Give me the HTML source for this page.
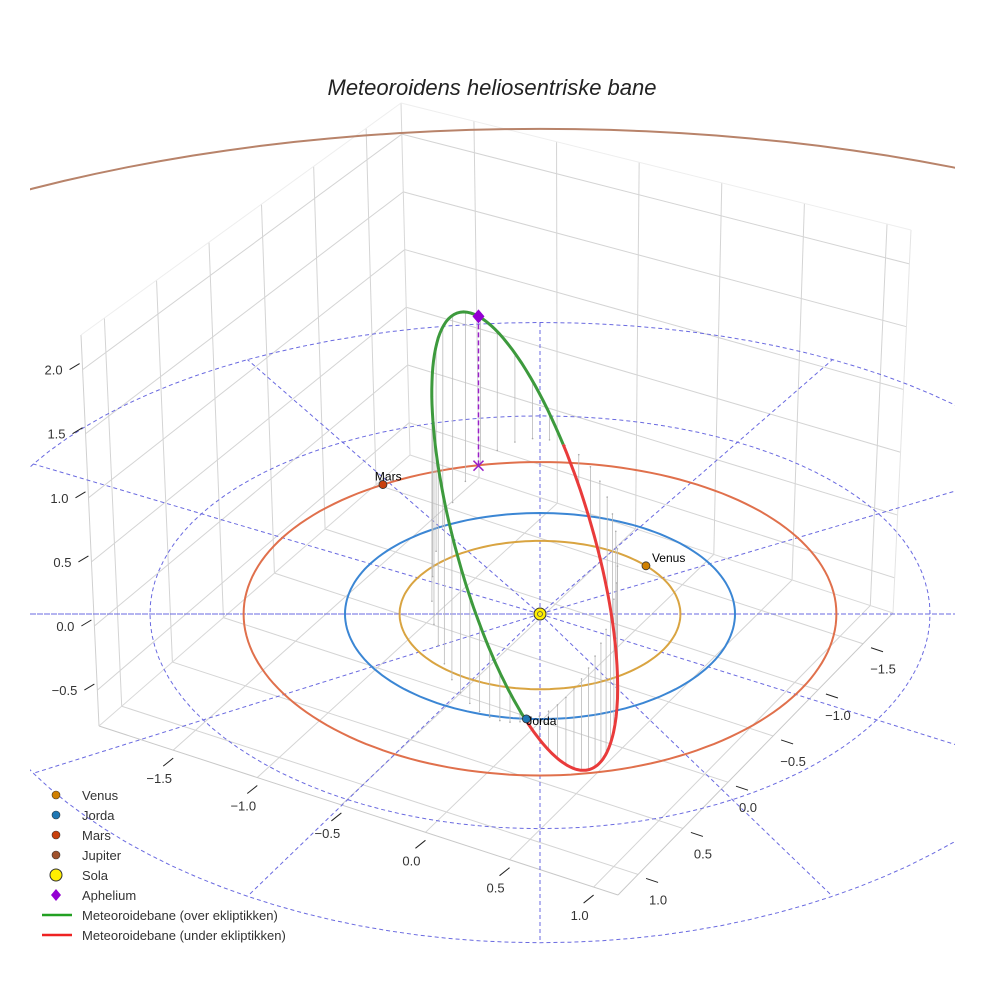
<!DOCTYPE html>
<html><head><meta charset="utf-8">
<style>
html,body{margin:0;padding:0;background:#fff;overflow:hidden;width:984px;height:984px;}
svg{display:block;font-family:"Liberation Sans",sans-serif;}
</style></head>
<body>
<svg id="chart" width="984" height="984" viewBox="0 0 984 984" xmlns="http://www.w3.org/2000/svg">
<defs><clipPath id="plotclip"><rect x="30" y="0" width="925" height="955"/></clipPath></defs>
<rect width="984" height="984" fill="#fff"/>
<text x="492" y="95" text-anchor="middle" font-size="22" font-style="italic" fill="#222">Meteoroidens heliosentriske bane</text>
<g id="box"></g>
<g id="polar" clip-path="url(#plotclip)"></g>
<g id="orbits" clip-path="url(#plotclip)"></g>
<g id="meteor"></g>
<g id="markers"></g>
<g id="ticks"></g>
<g id="legend"></g>
</svg>
<script>
// ---- data ----
const planetNames = ["Venus", "Jorda", "Mars", "Jupiter"];
const planetRadii = [0.72, 1.0, 1.52, 5.2];
const planetAngles = [41, -94, 122, null];
const planetOrbitColors = ["#d9a441", "#3b86d4", "#e0704c", "#b8836a"];
const planetMarkerColors = ["#d08000", "#1f77b4", "#c8400c", "#a0522d"];
const meteorA = [1.43];
const meteorE = [0.33];
const meteorIncl = [70];
const meteorPeriArg = [-40];
const meteorNodeLon = [-94];
const polarRadii = [1, 2, 3];
const polarAngles = [0, 30, 60, 90, 120, 150, 180, 210, 240, 270, 300, 330];
const xTickLabels = ["−1.5", "−1.0", "−0.5", "0.0", "0.5", "1.0"];
const yTickLabels = ["−1.5", "−1.0", "−0.5", "0.0", "0.5", "1.0"];
const zTickLabels = ["−0.5", "0.0", "0.5", "1.0", "1.5", "2.0"];
const zTickValues = [-0.5, 0, 0.5, 1.0, 1.5, 2.0];

const NS = "http://www.w3.org/2000/svg";
function mk(tag, attrs, parent) {
  const e = document.createElementNS(NS, tag);
  for (const k in attrs) e.setAttribute(k, attrs[k]);
  parent.appendChild(e);
  return e;
}
const CX = 540, CY = 614;
function proj(x, y, z) {
  return [CX + 195 * x, CY - 103 * y / (1 + 0.02 * y) - 130 * z];
}
function pathFrom(pts) {
  return pts.map((p, i) => (i ? "L" : "M") + p[0].toFixed(1) + "," + p[1].toFixed(1)).join("");
}

// ---- axes box ----
const FL = [[99,726],[618,895],[893,613],[410,455]];
const TP = [[81,335],[600,500],[911,230],[401,103]];
function bil(c, u, v) {
  const x = c[0][0]*(1-u)*(1-v) + c[1][0]*u*(1-v) + c[2][0]*u*v + c[3][0]*(1-u)*v;
  const y = c[0][1]*(1-u)*(1-v) + c[1][1]*u*(1-v) + c[2][1]*u*v + c[3][1]*(1-u)*v;
  return [x, y];
}
function box(u, v, w) {
  const p = bil(FL, u, v), q = bil(TP, u, v);
  return [p[0] + (q[0]-p[0])*w, p[1] + (q[1]-p[1])*w];
}
const boxG = document.getElementById("box");
function bline(p, q, col, nm) {
  const l = mk("line", {x1:p[0],y1:p[1],x2:q[0],y2:q[1],stroke:col,"stroke-width":1}, boxG);
  
  
}
const uTicks = [0.143, 0.305, 0.467, 0.629, 0.791, 0.953];
const vTicks = [0.891, 0.727, 0.564, 0.400, 0.236, 0.073];
const wTicks = zTickValues.map(z => (z + 0.78) / 3.05);
const gcol = "#d4d4d4";
uTicks.forEach(u => { bline(box(u,0,0), box(u,1,0), gcol, "floor-grid-x"); bline(box(u,1,0), box(u,1,1), gcol, "back-wall-grid-x"); });
vTicks.forEach(v => { bline(box(0,v,0), box(1,v,0), gcol, "floor-grid-y"); bline(box(0,v,0), box(0,v,1), gcol, "left-wall-grid-y"); });
wTicks.forEach(w => { bline(box(0,0,w), box(0,1,w), gcol, "left-wall-grid-z"); bline(box(0,1,w), box(1,1,w), gcol, "back-wall-grid-z"); });
bline(box(0,0,0), box(1,0,0), "#c8c8c8", "box-edge");
bline(box(1,0,0), box(1,1,0), "#c8c8c8", "box-edge");
bline(box(0,0,0), box(0,1,0), "#d8d8d8", "box-edge");
bline(box(0,1,0), box(1,1,0), "#d8d8d8", "box-edge");
bline(box(0,0,0), box(0,0,1), "#d0d0d0", "box-edge");
bline(box(0,1,0), box(0,1,1), "#d8d8d8", "box-edge");
bline(box(1,1,0), box(1,1,1), "#e4e4e4", "box-edge");
bline(box(0,0,1), box(0,1,1), "#eeeeee", "box-edge");
bline(box(0,1,1), box(1,1,1), "#eeeeee", "box-edge");

// ---- ticks ----
const tG = document.getElementById("ticks");
function tickText(x, y, s, anchor, nm) {
  const t = mk("text", {x:x, y:y, "font-size":13, fill:"#333", "text-anchor":anchor}, tG);
  t.textContent = s;
  
  
}
uTicks.forEach((u, i) => {
  const p = box(u, 0, 0);
  mk("line", {x1:p[0], y1:p[1]+8, x2:p[0]-10, y2:p[1]+16, stroke:"#222"}, tG);
  tickText(p[0]-14, p[1]+33, xTickLabels[i], "middle", "x-tick-label");
});
vTicks.forEach((v, i) => {
  const p = box(1, v, 0);
  mk("line", {x1:p[0]+8, y1:p[1]+4, x2:p[0]+20, y2:p[1]+8, stroke:"#222"}, tG);
  tickText(p[0]+20, p[1]+30, yTickLabels[i], "middle", "y-tick-label");
});
wTicks.forEach((w, i) => {
  const p = box(0, 0, w);
  mk("line", {x1:p[0]-3, y1:p[1]-6, x2:p[0]-13, y2:p[1], stroke:"#222"}, tG);
  tickText(p[0]-20, p[1]+5, zTickLabels[i], "end", "z-tick-label");
});

// ---- polar dashed grid ----
const pG = document.getElementById("polar");
polarRadii.forEach(R => {
  const pts = [];
  for (let t = 0; t <= 360; t += 3) pts.push(proj(R*Math.cos(t*Math.PI/180), R*Math.sin(t*Math.PI/180), 0));
  const e = mk("path", {d: pathFrom(pts), fill:"none", stroke:"#6a6ae0", "stroke-width":1, "stroke-dasharray":"4,3"}, pG);
  
  
});
const Rmax = Math.max(...polarRadii);
polarAngles.forEach(ang => {
  const p = proj(Rmax*Math.cos(ang*Math.PI/180), Rmax*Math.sin(ang*Math.PI/180), 0);
  const l = mk("line", {x1:CX, y1:CY, x2:p[0], y2:p[1], stroke:"#6a6ae0", "stroke-width":1, "stroke-dasharray":"4,3"}, pG);
  
  
});
{
  const l = mk("line", {x1:30, y1:CY, x2:955, y2:CY, stroke:"#6a6ae0", "stroke-width":1, "stroke-dasharray":"4,3"}, pG);
  
  
}

// ---- planet orbits ----
const oG = document.getElementById("orbits");
planetRadii.forEach((R, i) => {
  const pts = [];
  for (let t = 0; t <= 360; t += 2) pts.push(proj(R*Math.cos(t*Math.PI/180), R*Math.sin(t*Math.PI/180), 0));
  const e = mk("path", {d: pathFrom(pts), fill:"none", stroke: planetOrbitColors[i], "stroke-width":2}, oG);
  
  
});

// ---- meteoroid orbit ----
const mG = document.getElementById("meteor");
const semiA = meteorA[0], ecc = meteorE[0], inc = meteorIncl[0]*Math.PI/180, nuP = meteorPeriArg[0];
const Om = meteorNodeLon[0]*Math.PI/180;
const pp = semiA*(1-ecc*ecc);
function meteorPos(nuDeg) {
  const r = pp / (1 + ecc*Math.cos((nuDeg - nuP)*Math.PI/180));
  const c = Math.cos(nuDeg*Math.PI/180), s = Math.sin(nuDeg*Math.PI/180);
  const n = [Math.cos(Om), Math.sin(Om), 0];
  const u = [Math.sin(Om)*Math.cos(inc), -Math.cos(Om)*Math.cos(inc), Math.sin(inc)];
  return [r*(c*n[0] + s*u[0]), r*(c*n[1] + s*u[1]), r*(c*n[2] + s*u[2])];
}
for (let nu = 5; nu < 360; nu += 8) {
  const q = meteorPos(nu);
  const p1 = proj(q[0], q[1], q[2]), p0 = proj(q[0], q[1], 0);
  const l = mk("line", {x1:p1[0], y1:p1[1], x2:p0[0], y2:p0[1], stroke:"#bbb", "stroke-width":0.8}, mG);
  
  
  mk("circle", {cx:p0[0], cy:p0[1], r:0.8, fill:"#aaa"}, mG);
}
const above = [], below = [];
for (let nu = 0; nu <= 180; nu += 2) { const q = meteorPos(nu); above.push(proj(q[0], q[1], q[2])); }
for (let nu = 180; nu <= 360; nu += 2) { const q = meteorPos(nu); below.push(proj(q[0], q[1], q[2])); }
{
  const g = mk("path", {d: pathFrom(above), fill:"none", stroke:"#3d9a3d", "stroke-width":3}, mG);
  
  
  const r = mk("path", {d: pathFrom(below), fill:"none", stroke:"#e93b3b", "stroke-width":3}, mG);
  
  
  const q = meteorPos(nuP + 180);
  const pa = proj(q[0], q[1], q[2]), pb = proj(q[0], q[1], 0);
  const dl = mk("line", {x1:pa[0], y1:pa[1], x2:pb[0], y2:pb[1], stroke:"#9a20c8", "stroke-width":1.5, "stroke-dasharray":"5,3"}, mG);
  
  
  const d = mk("path", {d:`M${pa[0]},${pa[1]-7}L${pa[0]+6},${pa[1]}L${pa[0]},${pa[1]+7}L${pa[0]-6},${pa[1]}Z`, fill:"#9400d3"}, mG);
  
  
  const x = mk("path", {d:`M${pb[0]-5},${pb[1]-5}L${pb[0]+5},${pb[1]+5}M${pb[0]+5},${pb[1]-5}L${pb[0]-5},${pb[1]+5}`, stroke:"#9a20c8", "stroke-width":1.5}, mG);
  
  
}

// ---- planet markers ----
const kG = document.getElementById("markers");
planetAngles.forEach((ang, i) => {
  if (ang === null) return;
  const R = planetRadii[i];
  const p = proj(R*Math.cos(ang*Math.PI/180), R*Math.sin(ang*Math.PI/180), 0);
  const c = mk("circle", {cx:p[0], cy:p[1], r:4, fill:planetMarkerColors[i], stroke:"#333", "stroke-width":0.8}, kG);
  
  
  const t = mk("text", {x:p[0] + (i === 2 ? -8 : (i === 1 ? 0 : 6)), y:p[1] + (i === 1 ? 6 : -4), "font-size":12, fill:"#000"}, kG);
  t.textContent = planetNames[i];
  
  
});
{
  const s = mk("circle", {cx:CX, cy:CY, r:6, fill:"#ffee00", stroke:"#333", "stroke-width":1}, kG);
  
  
  mk("circle", {cx:CX, cy:CY, r:2.5, fill:"none", stroke:"#555", "stroke-width":0.8}, kG);
}

// ---- legend ----
const lG = document.getElementById("legend");
const legendLabels = ["Venus","Jorda","Mars","Jupiter","Sola","Aphelium","Meteoroidebane (over ekliptikken)","Meteoroidebane (under ekliptikken)"];
legendLabels.forEach((lab, i) => {
  const y = 795 + i*20;
  let m;
  if (i < 4) m = mk("circle", {cx:56, cy:y, r:4, fill:planetMarkerColors[i], stroke:"#333", "stroke-width":0.6}, lG);
  else if (i === 4) m = mk("circle", {cx:56, cy:y, r:6, fill:"#ffee00", stroke:"#333", "stroke-width":1}, lG);
  else if (i === 5) m = mk("path", {d:`M56,${y-6}L61,${y}L56,${y+6}L51,${y}Z`, fill:"#9400d3"}, lG);
  else m = mk("line", {x1:42, y1:y, x2:72, y2:y, stroke: i === 6 ? "#22a022" : "#ee2222", "stroke-width":2.5}, lG);
  
  
  const t = mk("text", {x:82, y:y+5, "font-size":13, fill:"#333"}, lG);
  t.textContent = lab;
  
  
});
</script>
</body></html>
